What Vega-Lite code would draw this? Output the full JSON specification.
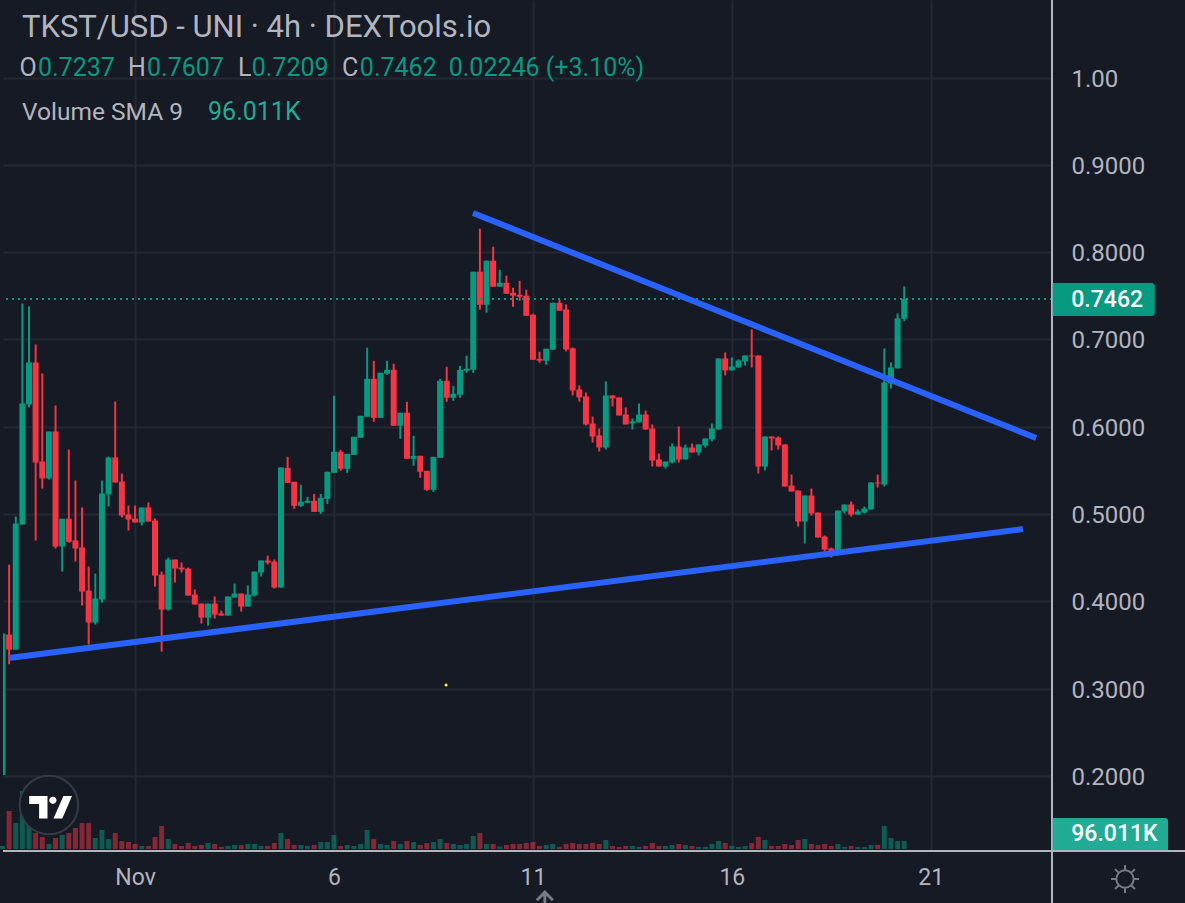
{
  "$schema": "https://vega.github.io/schema/vega-lite/v6.json",
  "description": "TKST/USD 4h candles with two trend lines",
  "background": "#161a25",
  "autosize": "none",
  "padding": {"left": 3, "top": 0, "right": 133, "bottom": 52},
  "width": 1049,
  "height": 851,
  "config": {"view": {"stroke": null}, "text": {"font": "Roboto"}},
  "datasets": {
    "bars": [
      {"i":0,"o":0.2010,"h":0.3630,"l":0.2010,"c":0.3630,"v":40},
      {"i":1,"o":0.3619,"h":0.4421,"l":0.3280,"c":0.3447,"v":505},
      {"i":2,"o":0.3447,"h":0.4971,"l":0.3447,"c":0.4891,"v":346},
      {"i":3,"o":0.4880,"h":0.7412,"l":0.4880,"c":0.6266,"v":771},
      {"i":4,"o":0.6255,"h":0.7378,"l":0.6221,"c":0.6736,"v":372},
      {"i":5,"o":0.6736,"h":0.6943,"l":0.4696,"c":0.5590,"v":213},
      {"i":6,"o":0.5602,"h":0.6610,"l":0.5292,"c":0.5407,"v":160},
      {"i":7,"o":0.5407,"h":0.5945,"l":0.5395,"c":0.5945,"v":67},
      {"i":8,"o":0.5945,"h":0.6243,"l":0.4605,"c":0.4628,"v":146},
      {"i":9,"o":0.4628,"h":0.4946,"l":0.4341,"c":0.4946,"v":186},
      {"i":10,"o":0.4946,"h":0.5739,"l":0.4671,"c":0.4682,"v":213},
      {"i":11,"o":0.4698,"h":0.5384,"l":0.4456,"c":0.4605,"v":279},
      {"i":12,"o":0.4616,"h":0.5075,"l":0.3952,"c":0.4112,"v":346},
      {"i":13,"o":0.4123,"h":0.4398,"l":0.3505,"c":0.3757,"v":346},
      {"i":14,"o":0.3757,"h":0.4318,"l":0.3734,"c":0.4032,"v":146},
      {"i":15,"o":0.4020,"h":0.5384,"l":0.3986,"c":0.5235,"v":253},
      {"i":16,"o":0.5224,"h":0.5659,"l":0.5086,"c":0.5648,"v":133},
      {"i":17,"o":0.5648,"h":0.6289,"l":0.5361,"c":0.5361,"v":213},
      {"i":18,"o":0.5372,"h":0.5464,"l":0.4960,"c":0.4983,"v":106},
      {"i":19,"o":0.4994,"h":0.5097,"l":0.4811,"c":0.4937,"v":93},
      {"i":20,"o":0.4948,"h":0.5097,"l":0.4903,"c":0.4903,"v":67},
      {"i":21,"o":0.4903,"h":0.5075,"l":0.4868,"c":0.5075,"v":40},
      {"i":22,"o":0.5075,"h":0.5132,"l":0.4914,"c":0.4914,"v":40},
      {"i":23,"o":0.4926,"h":0.4948,"l":0.4169,"c":0.4295,"v":160},
      {"i":24,"o":0.4307,"h":0.4341,"l":0.3424,"c":0.3906,"v":306},
      {"i":25,"o":0.3906,"h":0.4502,"l":0.3894,"c":0.4479,"v":133},
      {"i":26,"o":0.4479,"h":0.4479,"l":0.4215,"c":0.4375,"v":67},
      {"i":27,"o":0.4387,"h":0.4444,"l":0.4330,"c":0.4364,"v":40},
      {"i":28,"o":0.4375,"h":0.4387,"l":0.4066,"c":0.4066,"v":80},
      {"i":29,"o":0.4078,"h":0.4135,"l":0.3963,"c":0.3963,"v":40},
      {"i":30,"o":0.3974,"h":0.3974,"l":0.3745,"c":0.3814,"v":53},
      {"i":31,"o":0.3814,"h":0.3974,"l":0.3722,"c":0.3974,"v":80},
      {"i":32,"o":0.3974,"h":0.4055,"l":0.3803,"c":0.3848,"v":67},
      {"i":33,"o":0.3860,"h":0.3894,"l":0.3837,"c":0.3837,"v":27},
      {"i":34,"o":0.3837,"h":0.4055,"l":0.3837,"c":0.4055,"v":40},
      {"i":35,"o":0.4043,"h":0.4204,"l":0.4043,"c":0.4089,"v":53},
      {"i":36,"o":0.4089,"h":0.4089,"l":0.3883,"c":0.3940,"v":53},
      {"i":37,"o":0.3940,"h":0.4181,"l":0.3940,"c":0.4078,"v":67},
      {"i":38,"o":0.4066,"h":0.4341,"l":0.4055,"c":0.4341,"v":67},
      {"i":39,"o":0.4330,"h":0.4467,"l":0.4284,"c":0.4467,"v":40},
      {"i":40,"o":0.4467,"h":0.4524,"l":0.4421,"c":0.4444,"v":40},
      {"i":41,"o":0.4456,"h":0.4479,"l":0.4146,"c":0.4158,"v":80},
      {"i":42,"o":0.4158,"h":0.5533,"l":0.4158,"c":0.5533,"v":213},
      {"i":43,"o":0.5529,"h":0.5655,"l":0.5357,"c":0.5357,"v":133},
      {"i":44,"o":0.5369,"h":0.5369,"l":0.5060,"c":0.5094,"v":53},
      {"i":45,"o":0.5094,"h":0.5335,"l":0.5082,"c":0.5140,"v":53},
      {"i":46,"o":0.5128,"h":0.5197,"l":0.5128,"c":0.5151,"v":40},
      {"i":47,"o":0.5151,"h":0.5231,"l":0.5025,"c":0.5025,"v":53},
      {"i":48,"o":0.5025,"h":0.5231,"l":0.5002,"c":0.5186,"v":93},
      {"i":49,"o":0.5174,"h":0.5484,"l":0.5117,"c":0.5484,"v":93},
      {"i":50,"o":0.5472,"h":0.6355,"l":0.5472,"c":0.5713,"v":186},
      {"i":51,"o":0.5713,"h":0.5736,"l":0.5495,"c":0.5518,"v":40},
      {"i":52,"o":0.5518,"h":0.5690,"l":0.5472,"c":0.5690,"v":53},
      {"i":53,"o":0.5678,"h":0.5885,"l":0.5678,"c":0.5885,"v":40},
      {"i":54,"o":0.5873,"h":0.6125,"l":0.5873,"c":0.6125,"v":67},
      {"i":55,"o":0.6114,"h":0.6905,"l":0.6114,"c":0.6549,"v":253},
      {"i":56,"o":0.6549,"h":0.6756,"l":0.6057,"c":0.6102,"v":133},
      {"i":57,"o":0.6102,"h":0.6618,"l":0.6102,"c":0.6618,"v":67},
      {"i":58,"o":0.6607,"h":0.6756,"l":0.6595,"c":0.6652,"v":53},
      {"i":59,"o":0.6652,"h":0.6721,"l":0.6011,"c":0.6011,"v":106},
      {"i":60,"o":0.6011,"h":0.6160,"l":0.5862,"c":0.6160,"v":67},
      {"i":61,"o":0.6160,"h":0.6286,"l":0.5633,"c":0.5633,"v":106},
      {"i":62,"o":0.5633,"h":0.5896,"l":0.5552,"c":0.5667,"v":93},
      {"i":63,"o":0.5667,"h":0.5667,"l":0.5415,"c":0.5484,"v":53},
      {"i":64,"o":0.5495,"h":0.5495,"l":0.5266,"c":0.5277,"v":80},
      {"i":65,"o":0.5277,"h":0.5655,"l":0.5254,"c":0.5655,"v":93},
      {"i":66,"o":0.5644,"h":0.6549,"l":0.5644,"c":0.6526,"v":133},
      {"i":67,"o":0.6526,"h":0.6687,"l":0.6286,"c":0.6332,"v":80},
      {"i":68,"o":0.6332,"h":0.6469,"l":0.6297,"c":0.6377,"v":67},
      {"i":69,"o":0.6366,"h":0.6698,"l":0.6332,"c":0.6652,"v":53},
      {"i":70,"o":0.6641,"h":0.6813,"l":0.6618,"c":0.6664,"v":67},
      {"i":71,"o":0.6652,"h":0.7776,"l":0.6618,"c":0.7776,"v":173},
      {"i":72,"o":0.7776,"h":0.8268,"l":0.7340,"c":0.7397,"v":213},
      {"i":73,"o":0.7397,"h":0.7902,"l":0.7306,"c":0.7902,"v":67},
      {"i":74,"o":0.7902,"h":0.8062,"l":0.7604,"c":0.7604,"v":67},
      {"i":75,"o":0.7604,"h":0.7798,"l":0.7604,"c":0.7649,"v":33},
      {"i":76,"o":0.7649,"h":0.7730,"l":0.7523,"c":0.7523,"v":53},
      {"i":77,"o":0.7535,"h":0.7592,"l":0.7374,"c":0.7501,"v":67},
      {"i":78,"o":0.7512,"h":0.7672,"l":0.7443,"c":0.7489,"v":67},
      {"i":79,"o":0.7501,"h":0.7569,"l":0.7271,"c":0.7271,"v":80},
      {"i":80,"o":0.7283,"h":0.7294,"l":0.6767,"c":0.6767,"v":93},
      {"i":81,"o":0.6778,"h":0.6859,"l":0.6733,"c":0.6756,"v":40},
      {"i":82,"o":0.6756,"h":0.6893,"l":0.6710,"c":0.6893,"v":53},
      {"i":83,"o":0.6882,"h":0.7420,"l":0.6882,"c":0.7420,"v":67},
      {"i":84,"o":0.7420,"h":0.7455,"l":0.7329,"c":0.7329,"v":27},
      {"i":85,"o":0.7344,"h":0.7401,"l":0.6862,"c":0.6885,"v":67},
      {"i":86,"o":0.6897,"h":0.6908,"l":0.6358,"c":0.6415,"v":80},
      {"i":87,"o":0.6427,"h":0.6473,"l":0.6289,"c":0.6335,"v":67},
      {"i":88,"o":0.6347,"h":0.6392,"l":0.6014,"c":0.6026,"v":67},
      {"i":89,"o":0.6037,"h":0.6117,"l":0.5819,"c":0.5888,"v":80},
      {"i":90,"o":0.5900,"h":0.5980,"l":0.5716,"c":0.5762,"v":67},
      {"i":91,"o":0.5762,"h":0.6519,"l":0.5739,"c":0.6358,"v":120},
      {"i":92,"o":0.6358,"h":0.6358,"l":0.6232,"c":0.6324,"v":40},
      {"i":93,"o":0.6335,"h":0.6335,"l":0.6129,"c":0.6129,"v":27},
      {"i":94,"o":0.6140,"h":0.6221,"l":0.6026,"c":0.6026,"v":40},
      {"i":95,"o":0.6037,"h":0.6095,"l":0.5968,"c":0.6060,"v":40},
      {"i":96,"o":0.6049,"h":0.6266,"l":0.6049,"c":0.6140,"v":27},
      {"i":97,"o":0.6140,"h":0.6186,"l":0.5968,"c":0.5968,"v":40},
      {"i":98,"o":0.5980,"h":0.6026,"l":0.5544,"c":0.5613,"v":80},
      {"i":99,"o":0.5625,"h":0.5693,"l":0.5544,"c":0.5544,"v":40},
      {"i":100,"o":0.5544,"h":0.5602,"l":0.5522,"c":0.5602,"v":40},
      {"i":101,"o":0.5590,"h":0.5808,"l":0.5579,"c":0.5774,"v":53},
      {"i":102,"o":0.5774,"h":0.6003,"l":0.5590,"c":0.5625,"v":67},
      {"i":103,"o":0.5625,"h":0.5797,"l":0.5625,"c":0.5762,"v":53},
      {"i":104,"o":0.5762,"h":0.5808,"l":0.5705,"c":0.5705,"v":40},
      {"i":105,"o":0.5705,"h":0.5797,"l":0.5671,"c":0.5797,"v":27},
      {"i":106,"o":0.5785,"h":0.5865,"l":0.5762,"c":0.5865,"v":27},
      {"i":107,"o":0.5854,"h":0.6037,"l":0.5831,"c":0.5980,"v":67},
      {"i":108,"o":0.5968,"h":0.6782,"l":0.5968,"c":0.6782,"v":106},
      {"i":109,"o":0.6782,"h":0.6851,"l":0.6587,"c":0.6645,"v":80},
      {"i":110,"o":0.6645,"h":0.6794,"l":0.6645,"c":0.6690,"v":40},
      {"i":111,"o":0.6679,"h":0.6771,"l":0.6679,"c":0.6759,"v":27},
      {"i":112,"o":0.6748,"h":0.6816,"l":0.6702,"c":0.6816,"v":40},
      {"i":113,"o":0.6816,"h":0.7114,"l":0.6679,"c":0.6805,"v":80},
      {"i":114,"o":0.6816,"h":0.6816,"l":0.5464,"c":0.5544,"v":160},
      {"i":115,"o":0.5544,"h":0.5888,"l":0.5499,"c":0.5888,"v":120},
      {"i":116,"o":0.5888,"h":0.5888,"l":0.5728,"c":0.5865,"v":40},
      {"i":117,"o":0.5877,"h":0.5888,"l":0.5739,"c":0.5785,"v":40},
      {"i":118,"o":0.5797,"h":0.5797,"l":0.5315,"c":0.5315,"v":67},
      {"i":119,"o":0.5327,"h":0.5453,"l":0.5258,"c":0.5258,"v":53},
      {"i":120,"o":0.5269,"h":0.5269,"l":0.4857,"c":0.4914,"v":120},
      {"i":121,"o":0.4914,"h":0.5212,"l":0.4662,"c":0.5212,"v":133},
      {"i":122,"o":0.5212,"h":0.5292,"l":0.4983,"c":0.5006,"v":67},
      {"i":123,"o":0.5017,"h":0.5017,"l":0.4731,"c":0.4731,"v":53},
      {"i":124,"o":0.4742,"h":0.4754,"l":0.4570,"c":0.4593,"v":67},
      {"i":125,"o":0.4605,"h":0.4616,"l":0.4502,"c":0.4548,"v":40},
      {"i":126,"o":0.4548,"h":0.5040,"l":0.4525,"c":0.5040,"v":67},
      {"i":127,"o":0.5029,"h":0.5109,"l":0.5006,"c":0.5109,"v":27},
      {"i":128,"o":0.5109,"h":0.5143,"l":0.4971,"c":0.4994,"v":40},
      {"i":129,"o":0.4994,"h":0.5052,"l":0.4994,"c":0.5029,"v":27},
      {"i":130,"o":0.5017,"h":0.5086,"l":0.5006,"c":0.5063,"v":27},
      {"i":131,"o":0.5052,"h":0.5361,"l":0.5052,"c":0.5361,"v":53},
      {"i":132,"o":0.5361,"h":0.5453,"l":0.5304,"c":0.5350,"v":53},
      {"i":133,"o":0.5338,"h":0.6897,"l":0.5315,"c":0.6507,"v":306},
      {"i":134,"o":0.6496,"h":0.6736,"l":0.6438,"c":0.6679,"v":146},
      {"i":135,"o":0.6668,"h":0.7298,"l":0.6668,"c":0.7241,"v":106},
      {"i":136,"o":0.7237,"h":0.7607,"l":0.7209,"c":0.7462,"v":106}
    ],
    "trend": [
      {"line":"upper","i":70.96,"price":0.8448},
      {"line":"upper","i":155.9,"price":0.5871},
      {"line":"lower","i":0.98,"price":0.3350},
      {"line":"lower","i":153.9,"price":0.4828}
    ]
  },
  "layer": [
    {
      "data": {"name": "bars"},
      "mark": {"type": "bar", "size": 5, "opacity": 0.5},
      "encoding": {
        "x": {"field": "i", "type": "quantitative", "title": null, "scale": {"domain": [0.075, 158.29], "nice": false, "zero": false, "padding": 0},
          "axis": {"values": [20, 50, 80, 110, 140], "labelExpr": "{'20':'Nov','50':'6','80':'11','110':'16','140':'21'}[datum.value]", "grid": true, "gridColor": "#242833", "gridWidth": 2, "domain": false, "ticks": false, "labelFont": "Roboto", "labelFontSize": 23, "labelColor": "#b2b5be", "labelPadding": 15, "labelFlush": false, "labelOverlap": false}},
        "y": {"field": "v", "type": "quantitative", "title": null, "scale": {"domain": [-27, 11291], "nice": false, "zero": false, "padding": 0}, "axis": null},
        "color": {"condition": {"test": "datum.c >= datum.o", "value": "#089981"}, "value": "#f23645"}
      }
    },
    {
      "layer": [
        {
          "data": {"name": "bars"},
          "mark": {"type": "rule", "strokeWidth": 2, "clip": true},
          "encoding": {
            "x": {"field": "i", "type": "quantitative"},
            "y": {"field": "l", "type": "quantitative", "title": null, "scale": {"domain": [0.114, 1.0888], "nice": false, "zero": false, "padding": 0},
              "axis": {"orient": "right", "values": [0.2, 0.3, 0.4, 0.5, 0.6, 0.7, 0.8, 0.9, 1], "labelExpr": "datum.value == 1 ? '1.00' : format(datum.value, '.4f')", "grid": true, "gridColor": "#242833", "gridWidth": 2, "domain": false, "ticks": false, "labelFont": "Roboto", "labelFontSize": 24, "labelColor": "#b2b5be", "labelPadding": 19, "labelOffset": 1.5, "labelFlush": false, "labelOverlap": false}},
            "y2": {"field": "h"},
            "color": {"condition": {"test": "datum.c >= datum.o", "value": "#089981"}, "value": "#f23645"}
          }
        },
        {
          "data": {"name": "bars"},
          "mark": {"type": "bar", "size": 6, "clip": true},
          "encoding": {
            "x": {"field": "i", "type": "quantitative"},
            "y": {"field": "o", "type": "quantitative"},
            "y2": {"field": "c"},
            "color": {"condition": {"test": "datum.c >= datum.o", "value": "#089981"}, "value": "#f23645"}
          }
        },
        {
          "data": {"values": [{}]},
          "mark": {"type": "rule", "stroke": "#089981", "strokeWidth": 2, "strokeDash": [2, 4]},
          "encoding": {"y": {"datum": 0.7462, "type": "quantitative"}}
        },
        {
          "data": {"name": "trend"},
          "mark": {"type": "line", "stroke": "#2962ff", "strokeWidth": 6},
          "encoding": {
            "x": {"field": "i", "type": "quantitative"},
            "y": {"field": "price", "type": "quantitative"},
            "detail": {"field": "line"}
          }
        },
        {
          "data": {"values": [{}]},
          "mark": {"type": "point", "filled": true, "size": 10, "color": "#ffeb3b", "opacity": 1},
          "encoding": {"x": {"datum": 66.9, "type": "quantitative"}, "y": {"datum": 0.3041, "type": "quantitative"}}
        },
        {
          "data": {"values": [{}]},
          "mark": {"type": "rule", "stroke": "#b2b5be", "strokeWidth": 2},
          "encoding": {"x": {"datum": 158.29, "type": "quantitative"}, "y": {"datum": 0.0544, "type": "quantitative"}, "y2": {"datum": 1.0888}}
        },
        {
          "data": {"values": [{}]},
          "mark": {"type": "rule", "stroke": "#b2b5be", "strokeWidth": 2},
          "encoding": {"x": {"datum": 0.075, "type": "quantitative"}, "x2": {"datum": 178.4}, "y": {"datum": 0.114, "type": "quantitative"}}
        },
        {
          "data": {"values": [{}]},
          "mark": {"type": "rect", "color": "#089981", "cornerRadiusTopRight": 3, "cornerRadiusBottomRight": 3},
          "encoding": {"x": {"datum": 158.4, "type": "quantitative"}, "x2": {"datum": 173.8}, "y": {"datum": 0.7646, "type": "quantitative"}, "y2": {"datum": 0.7268}}
        },
        {
          "data": {"values": [{}]},
          "mark": {"type": "text", "align": "left", "baseline": "middle", "fontSize": 23, "fontWeight": 500, "color": "#ffffff"},
          "encoding": {"x": {"datum": 161.2, "type": "quantitative"}, "y": {"datum": 0.7456, "type": "quantitative"}, "text": {"value": "0.7462"}}
        },
        {
          "data": {"values": [{}]},
          "mark": {"type": "rect", "color": "#22ab94", "cornerRadiusTopRight": 3},
          "encoding": {"x": {"datum": 158.4, "type": "quantitative"}, "x2": {"datum": 175.8}, "y": {"datum": 0.1518, "type": "quantitative"}, "y2": {"datum": 0.1152}}
        },
        {
          "data": {"values": [{}]},
          "mark": {"type": "text", "align": "left", "baseline": "middle", "fontSize": 23, "fontWeight": 500, "color": "#ffffff"},
          "encoding": {"x": {"datum": 161.2, "type": "quantitative"}, "y": {"datum": 0.1331, "type": "quantitative"}, "text": {"value": "96.011K"}}
        },
        {
          "data": {"values": [{}]},
          "mark": {"type": "point", "shape": "circle", "filled": true, "size": 3421, "fill": "#161a25", "stroke": "#363a45", "strokeWidth": 2, "opacity": 1},
          "encoding": {"x": {"datum": 7.0, "type": "quantitative"}, "y": {"datum": 0.1667, "type": "quantitative"}}
        },
        {
          "data": {"values": [{}]},
          "mark": {"type": "point", "shape": "M-.99 -.51H-.14V.53H-.53V-.14H-.99ZM-.06 -.31a.17 .17 0 1 0 .34 0a.17 .17 0 1 0 -.34 0ZM.6 -.51H1L.55 .53H.14Z", "filled": true, "size": 1849, "fill": "#ffffff", "strokeWidth": 0, "opacity": 1},
          "encoding": {"x": {"datum": 7.24, "type": "quantitative"}, "y": {"datum": 0.1644, "type": "quantitative"}}
        },
        {
          "data": {"values": [{}]},
          "mark": {"type": "point", "shape": "M-.62 0a.62 .62 0 1 0 1.24 0a.62 .62 0 1 0 -1.24 0M0 -1V-.62M0 .62V1M-1 0H-.62M.62 0H1M-.71 -.71L-.44 -.44M.71 -.71L.44 -.44M-.71 .71L-.44 .44M.71 .71L.44 .44", "filled": false, "size": 784, "stroke": "#787b86", "strokeWidth": 2, "opacity": 1},
          "encoding": {"x": {"datum": 169.3, "type": "quantitative"}, "y": {"datum": 0.0819, "type": "quantitative"}}
        },
        {
          "data": {"values": [{}]},
          "mark": {"type": "point", "shape": "M-1 .4L0 -.6L1 .4M0 -.6V1", "filled": false, "size": 256, "stroke": "#787b86", "strokeWidth": 3, "opacity": 1},
          "encoding": {"x": {"datum": 81.8, "type": "quantitative"}, "y": {"datum": 0.0613, "type": "quantitative"}}
        },
        {
          "data": {"values": [{}]},
          "mark": {"type": "text", "align": "left", "baseline": "alphabetic", "fontSize": 31, "color": "#b2b5be"},
          "encoding": {"x": {"datum": 2.94, "type": "quantitative"}, "y": {"datum": 1.0464, "type": "quantitative"}, "text": {"value": "TKST/USD - UNI · 4h · DEXTools.io"}}
        },
        {
          "data": {"values": [{}]},
          "mark": {"type": "text", "align": "left", "baseline": "alphabetic", "fontSize": 25, "color": "#b2b5be"},
          "encoding": {"x": {"datum": 2.56, "type": "quantitative"}, "y": {"datum": 1.0017, "type": "quantitative"}, "text": {"value": "O"}}
        },
        {
          "data": {"values": [{}]},
          "mark": {"type": "text", "align": "left", "baseline": "alphabetic", "fontSize": 25, "color": "#089981"},
          "encoding": {"x": {"datum": 5.35, "type": "quantitative"}, "y": {"datum": 1.0017, "type": "quantitative"}, "text": {"value": "0.7237"}}
        },
        {
          "data": {"values": [{}]},
          "mark": {"type": "text", "align": "left", "baseline": "alphabetic", "fontSize": 25, "color": "#b2b5be"},
          "encoding": {"x": {"datum": 18.93, "type": "quantitative"}, "y": {"datum": 1.0017, "type": "quantitative"}, "text": {"value": "H"}}
        },
        {
          "data": {"values": [{}]},
          "mark": {"type": "text", "align": "left", "baseline": "alphabetic", "fontSize": 25, "color": "#089981"},
          "encoding": {"x": {"datum": 21.8, "type": "quantitative"}, "y": {"datum": 1.0017, "type": "quantitative"}, "text": {"value": "0.7607"}}
        },
        {
          "data": {"values": [{}]},
          "mark": {"type": "text", "align": "left", "baseline": "alphabetic", "fontSize": 25, "color": "#b2b5be"},
          "encoding": {"x": {"datum": 35.5, "type": "quantitative"}, "y": {"datum": 1.0017, "type": "quantitative"}, "text": {"value": "L"}}
        },
        {
          "data": {"values": [{}]},
          "mark": {"type": "text", "align": "left", "baseline": "alphabetic", "fontSize": 25, "color": "#089981"},
          "encoding": {"x": {"datum": 37.6, "type": "quantitative"}, "y": {"datum": 1.0017, "type": "quantitative"}, "text": {"value": "0.7209"}}
        },
        {
          "data": {"values": [{}]},
          "mark": {"type": "text", "align": "left", "baseline": "alphabetic", "fontSize": 25, "color": "#b2b5be"},
          "encoding": {"x": {"datum": 51.2, "type": "quantitative"}, "y": {"datum": 1.0017, "type": "quantitative"}, "text": {"value": "C"}}
        },
        {
          "data": {"values": [{}]},
          "mark": {"type": "text", "align": "left", "baseline": "alphabetic", "fontSize": 25, "color": "#089981"},
          "encoding": {"x": {"datum": 53.9, "type": "quantitative"}, "y": {"datum": 1.0017, "type": "quantitative"}, "text": {"value": "0.7462"}}
        },
        {
          "data": {"values": [{}]},
          "mark": {"type": "text", "align": "left", "baseline": "alphabetic", "fontSize": 25, "color": "#089981"},
          "encoding": {"x": {"datum": 67.3, "type": "quantitative"}, "y": {"datum": 1.0017, "type": "quantitative"}, "text": {"value": "0.02246 (+3.10%)"}}
        },
        {
          "data": {"values": [{}]},
          "mark": {"type": "text", "align": "left", "baseline": "alphabetic", "fontSize": 24.5, "color": "#b2b5be"},
          "encoding": {"x": {"datum": 2.94, "type": "quantitative"}, "y": {"datum": 0.9513, "type": "quantitative"}, "text": {"value": "Volume SMA 9"}}
        },
        {
          "data": {"values": [{}]},
          "mark": {"type": "text", "align": "left", "baseline": "alphabetic", "fontSize": 25, "color": "#22ab94"},
          "encoding": {"x": {"datum": 31.0, "type": "quantitative"}, "y": {"datum": 0.9513, "type": "quantitative"}, "text": {"value": "96.011K"}}
        }
      ]
    }
  ],
  "resolve": {"scale": {"y": "independent"}}
}
